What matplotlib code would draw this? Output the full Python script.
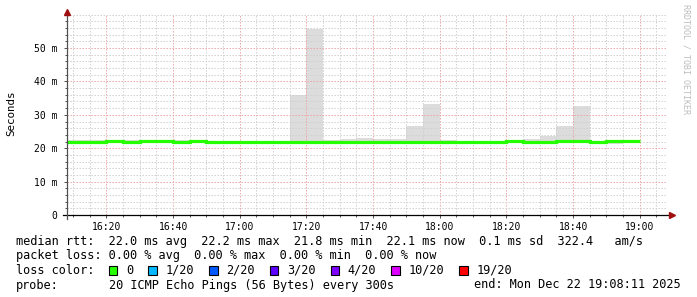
import matplotlib
matplotlib.use("Agg")
import matplotlib.pyplot as plt
from matplotlib.patches import Rectangle
import numpy as np

# ---------------- data ----------------
# 5-minute bins (start times, minutes after midnight), 16:05 .. 18:55
bin_start_labels = ["16:05", "16:10", "16:15", "16:20", "16:25", "16:30", "16:35",
                    "16:40", "16:45", "16:50", "16:55", "17:00", "17:05", "17:10",
                    "17:15", "17:20", "17:25", "17:30", "17:35", "17:40", "17:45",
                    "17:50", "17:55", "18:00", "18:05", "18:10", "18:15", "18:20",
                    "18:25", "18:30", "18:35", "18:40", "18:45", "18:50", "18:55"]
bin_minutes = 5
median_ms = [22.0, 22.0, 22.0, 22.2, 22.0, 22.2, 22.2,
             22.0, 22.2, 22.0, 22.0, 21.8, 22.0, 22.0,
             22.0, 22.0, 22.0, 22.0, 22.0, 22.0, 22.0,
             22.0, 22.0, 21.9, 22.0, 22.0, 21.9, 22.1,
             22.0, 22.0, 22.1, 22.1, 22.0, 22.1, 22.1]
smoke_max_ms = [22.4, 22.4, 22.4, 22.4, 22.4, 22.4, 22.4,
                22.4, 22.4, 22.3, 22.3, 22.3, 22.3, 22.3,
                35.9, 55.7, 22.5, 22.8, 23.1, 22.7, 22.7,
                26.6, 33.3, 22.4, 22.3, 22.3, 22.3, 22.3,
                22.8, 23.7, 26.6, 32.6, 22.3, 22.2, 22.3]
smoke_min_ms = [21.6, 21.6, 21.6, 21.7, 21.6, 21.7, 21.7,
                21.6, 21.7, 21.6, 21.6, 21.5, 21.6, 21.6,
                21.6, 21.6, 21.6, 21.6, 21.6, 21.6, 21.6,
                21.6, 21.5, 21.4, 21.6, 21.6, 21.5, 21.7,
                21.6, 21.6, 21.7, 21.7, 21.6, 21.3, 21.7]

x_tick_labels = ["16:20", "16:40", "17:00", "17:20", "17:40", "18:00", "18:20", "18:40", "19:00"]
y_tick_values = [0, 10, 20, 30, 40, 50]
y_tick_labels = ["0", "10 m", "20 m", "30 m", "40 m", "50 m"]
view_start = "16:08:11"
view_end = "19:08:11"

stats_rtt = {"avg": "22.0", "max": "22.2", "min": "21.8", "now": "22.1", "sd": "0.1", "am/s": "322.4"}
stats_loss = {"avg": "0.00", "max": "0.00", "min": "0.00", "now": "0.00"}
loss_labels = ["0", "1/20", "2/20", "3/20", "4/20", "10/20", "19/20"]
loss_colors = ["#26ff00", "#00b8ff", "#0059ff", "#5e00ff", "#7e00ff", "#dd00ff", "#ff0000"]
probe_text = "20 ICMP Echo Pings (56 Bytes) every 300s"
end_text = "end: Mon Dec 22 19:08:11 2025"


def to_min(s):
    parts = [int(p) for p in s.split(":")]
    while len(parts) < 3:
        parts.append(0)
    return parts[0] * 60 + parts[1] + parts[2] / 60.0


starts = np.array([to_min(s) for s in bin_start_labels])
edges = np.append(starts, starts[-1] + bin_minutes)

# ---------------- figure ----------------
W, H = 697, 297
fig = plt.figure(figsize=(W / 100, H / 100), dpi=100)
mono = "DejaVu Sans Mono"

ax = fig.add_axes([67 / W, 1 - 215 / H, 600 / W, (215 - 14) / H])
ax.set_xlim(to_min(view_start), to_min(view_end))
ax.set_ylim(0, 60.2)

# smoke
ax.stairs(smoke_max_ms, edges, baseline=smoke_min_ms, fill=True,
          color="#dcdcdc", lw=0, zorder=1)
# median line
ax.stairs(median_ms, edges, baseline=None, color="#26ff00", lw=2.3, zorder=3)

# grid
major_x = [to_min(t) for t in x_tick_labels]
minor_x = np.arange(to_min("16:10"), to_min(view_end), 5)
ax.set_xticks(major_x)
ax.set_xticklabels(x_tick_labels)
ax.set_xticks(minor_x, minor=True)
ax.set_yticks(y_tick_values)
ax.set_yticklabels(y_tick_labels)
ax.set_yticks(np.arange(0, 60.1, 2), minor=True)

ax.grid(which="minor", color="#d0d0d0", lw=0.72, linestyle=(0, (1.4, 1.6)), zorder=2.5)
ax.grid(which="major", color="#eea4a4", lw=0.72, linestyle=(0, (1.4, 1.6)), zorder=2.6)
ax.set_axisbelow(False)

for sp in ["top", "right", "left", "bottom"]:
    ax.spines[sp].set_visible(False)

# axes lines with arrows
ax.plot([-0.006, 1.008], [0, 0], transform=ax.transAxes, color="black", lw=0.9, clip_on=False, zorder=5)
ax.plot([0, 0], [-0.02, 1.01], transform=ax.transAxes, color="#505050", lw=0.9, clip_on=False, zorder=5)
ax.plot([1.008], [0], transform=ax.transAxes, marker=">", color="#a01010", ms=4, clip_on=False, zorder=6)
ax.plot([0], [1.01], transform=ax.transAxes, marker="^", color="#a01010", ms=4, clip_on=False, zorder=6)

ax.tick_params(axis="both", which="both", direction="out", color="#505050", width=0.7,
               labelsize=7, labelcolor="black")
ax.tick_params(axis="both", which="major", length=2.5)
ax.tick_params(axis="both", which="minor", length=1.5)
ax.tick_params(axis="y", pad=4.5)
ax.tick_params(axis="x", pad=2.5)
for lab in ax.get_xticklabels() + ax.get_yticklabels():
    lab.set_family(mono)

# y label
fig.text(11 / W, 1 - 113 / H, "Seconds", rotation=90, ha="center", va="center",
         family=mono, fontsize=7.8)
# watermark
fig.text(686 / W, 1 - 4 / H, "RRDTOOL / TOBI OETIKER", rotation=270, ha="center", va="top",
         family=mono, fontsize=6.0, color="#bdbdbd")

# ---------------- legend text ----------------
fs = 8.55
cw = fs / 72 * 100 * 0.602  # px per char
x0 = 16.0
rows = [241, 256, 270, 285]


def ftext(px, py, s, **kw):
    fig.text(px / W, 1 - py / H, s, family=mono, fontsize=fs, va="center", **kw)


line1 = ("median rtt:  {avg} ms avg  {max} ms max  {min} ms min  {now} ms now  "
         "{sd} ms sd  {ams}   am/s").format(avg=stats_rtt["avg"], max=stats_rtt["max"],
                                             min=stats_rtt["min"], now=stats_rtt["now"],
                                             sd=stats_rtt["sd"], ams=stats_rtt["am/s"])
line2 = "packet loss: {avg} % avg  {max} % max  {min} % min  {now} % now".format(**stats_loss)
ftext(x0, rows[0], line1)
ftext(x0, rows[1], line2)
ftext(x0, rows[2], "loss color:")
c = 13.0
for lab, col in zip(loss_labels, loss_colors):
    bx = x0 + c * cw
    fig.patches.append(Rectangle((bx / W, 1 - (rows[2] + 4.5) / H), 8.5 / W, 9 / H,
                                 transform=fig.transFigure, facecolor=col,
                                 edgecolor="black", lw=0.8))
    ftext(bx + 2.4 * cw, rows[2], lab)
    c += 2.4 + len(lab) + 2.1
ftext(x0, rows[3], "probe:")
ftext(x0 + 13 * cw, rows[3], probe_text)
ftext(681, rows[3], end_text, ha="right")

fig.savefig("out.png", dpi=100)
